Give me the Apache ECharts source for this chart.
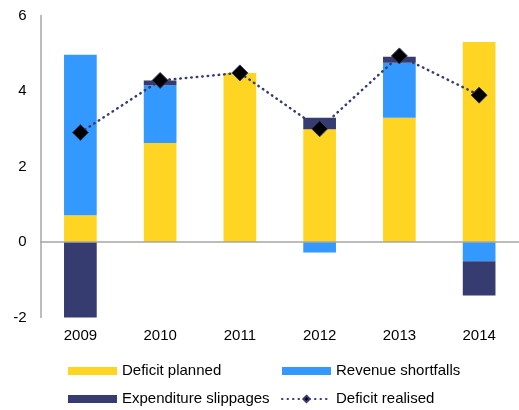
<!DOCTYPE html>
<html>
<head>
<meta charset="utf-8">
<script src="https://cdn.jsdelivr.net/npm/echarts@6/dist/echarts.min.js"></script>
<style>
html, body { margin: 0; padding: 0; background: #fff; }
#chart { width: 519px; height: 410px; }
</style>
</head>
<body>
<div id="chart"></div>
<script>
const years = ['2009', '2010', '2011', '2012', '2013', '2014']
const deficitPlanned = [0.71, 2.62, 4.48, 2.99, 3.29, 5.30]
const revenueShortfalls = [4.25, 1.53, 0, -0.28, 1.46, -0.51]
const expenditureSlippages = [-2.03, 0.13, 0, 0.30, 0.16, -0.91]
const deficitRealised = [2.90, 4.28, 4.48, 3.00, 4.93, 3.89]

const yellow = '#FFD524'
const blue = '#3399FF'
const navy = '#363B70'
const font = 'Liberation Sans, Arial, sans-serif'

const chart = echarts.init(document.getElementById('chart'))

const barBase = {
    type: 'bar',
    stack: 'total',
    barWidth: '41%',
    animation: false
}

const legendBase = {
    orient: 'vertical',
    top: 362,
    padding: 0,
    itemWidth: 49,
    itemHeight: 8,
    itemGap: 10,
    textStyle: { fontSize: 15, fontFamily: font, color: '#000', lineHeight: 18 }
}

chart.setOption({
    animation: false,
    grid: {
        left: 40.5,
        top: 15.5,
        right: -5,
        height: 302
    },
    legend: [
        {
            ...legendBase,
            left: 68,
            data: [
                { name: 'Deficit planned', icon: 'rect' },
                { name: 'Expenditure slippages', icon: 'rect' }
            ]
        },
        {
            ...legendBase,
            left: 281,
            data: [
                { name: 'Revenue shortfalls', icon: 'rect' },
                { name: 'Deficit realised' }
            ]
        }
    ],
    xAxis: {
        type: 'category',
        data: years,
        axisLine: { show: false, onZero: false },
        axisTick: { show: false },
        axisLabel: { margin: 11, fontSize: 15, fontFamily: font, color: '#000' }
    },
    yAxis: {
        type: 'value',
        min: -2,
        max: 6,
        interval: 2,
        splitLine: { show: false },
        axisLine: { show: true, lineStyle: { color: '#A6A6A6', width: 1.5 } },
        axisTick: { show: false },
        axisLabel: { margin: 14, fontSize: 15, fontFamily: font, color: '#000' }
    },
    series: [
        {
            ...barBase,
            name: 'Deficit planned',
            data: deficitPlanned,
            itemStyle: { color: yellow },
            markLine: {
                silent: true,
                symbol: 'none',
                label: { show: false },
                lineStyle: { color: '#A6A6A6', width: 1.5, type: 'solid' },
                data: [{ yAxis: 0 }]
            }
        },
        {
            ...barBase,
            name: 'Revenue shortfalls',
            data: revenueShortfalls,
            itemStyle: { color: blue }
        },
        {
            ...barBase,
            name: 'Expenditure slippages',
            data: expenditureSlippages,
            itemStyle: { color: navy }
        },
        {
            type: 'line',
            name: 'Deficit realised',
            data: deficitRealised,
            symbol: 'diamond',
            symbolSize: 16,
            z: 5,
            itemStyle: { color: '#000', borderColor: navy, borderWidth: 1 },
            lineStyle: { color: navy, width: 2.5, type: [0.5, 5], cap: 'round' }
        }
    ]
})
</script>
</body>
</html>
